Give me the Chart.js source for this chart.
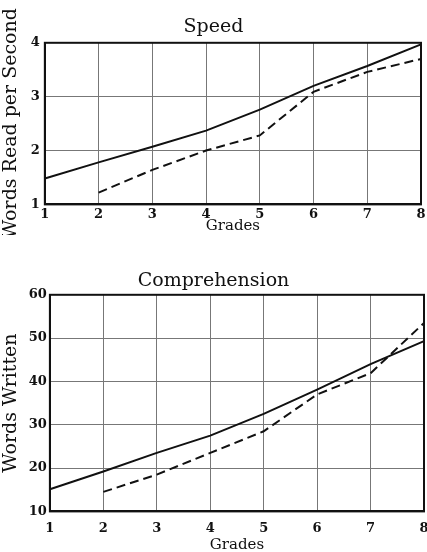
<!DOCTYPE html>
<html>
<head>
<meta charset="utf-8">
<script src="https://cdn.jsdelivr.net/npm/chart.js@4/dist/chart.umd.min.js"></script>
<style>
    html, body { margin: 0; padding: 0; background: #fff; }
    body { width: 427px; height: 552px; position: relative; overflow: hidden; }
    canvas { position: absolute; left: 0; }
    #speed { top: 0; }
    #comp { top: 250px; }
</style>
</head>
<body>
<canvas id="speed" width="427" height="235"></canvas>
<canvas id="comp" width="427" height="304"></canvas>
<script>
const grades = ["1", "2", "3", "4", "5", "6", "7", "8"];

// Speed: words read per second
const speedSolid = [1.48, 1.78, 2.07, 2.37, 2.76, 3.2, 3.57, 3.97];
const speedDashed = [null, 1.22, 1.64, 2.0, 2.28, 3.09, 3.46, 3.7];
const speedTicks = [1, 2, 3, 4];

// Comprehension: words written
const compSolid = [15.1, 19.2, 23.5, 27.5, 32.5, 38.1, 44.0, 49.3];
const compDashed = [null, 14.5, 18.5, 23.5, 28.5, 37.0, 41.9, 53.5];
const compTicks = [10, 20, 30, 40, 50, 60];

const serif = "'DejaVu Serif', 'Liberation Serif', serif";

// black frame round the plot area
const framePlugin = {
    id: "frame",
    afterDraw(chart) {
        const a = chart.chartArea;
        const ctx = chart.ctx;
        ctx.save();
        ctx.strokeStyle = "#111";
        ctx.lineWidth = 2;
        ctx.strokeRect(a.left, a.top, a.right - a.left, a.bottom - a.top);
        ctx.restore();
    }
};

function makeChart(id, title, yTitle, solid, dashed, ticks, pad) {
    const ctx = document.getElementById(id).getContext("2d");
    return new Chart(ctx, {
        type: "line",
        data: {
            labels: grades,
            datasets: [{
                data: solid,
                borderColor: "#111",
                borderWidth: 2,
                pointRadius: 0,
                tension: 0,
            }, {
                data: dashed,
                borderColor: "#111",
                borderWidth: 2,
                borderDash: [9, 5],
                pointRadius: 0,
                tension: 0,
                spanGaps: false,
            }]
        },
        options: {
            responsive: false,
            animation: false,
            layout: {
                padding: { left: 0, right: 0, top: 0, bottom: 0 }
            },
            plugins: {
                legend: { display: false },
                tooltip: { enabled: false },
                title: {
                    display: true,
                    text: title,
                    color: "#111",
                    font: { family: serif, size: 19, weight: "normal" },
                    padding: pad.title,
                }
            },
            scales: {
                x: {
                    type: "category",
                    offset: false,
                    afterFit: (axis) => {
                        // tick padding would otherwise widen the right margin too
                        axis.paddingRight = pad.xRight;
                    },
                    grid: { color: "#777", lineWidth: 1, drawTicks: false },
                    border: { color: "#111", width: 2 },
                    ticks: {
                        color: "#111",
                        padding: pad.xTick,
                        maxRotation: 0,
                        font: { family: serif, size: 13, weight: "bold" },
                    },
                    title: {
                        display: true,
                        text: "Grades",
                        color: "#111",
                        font: { family: serif, size: 15, weight: "normal" },
                        padding: pad.xTitle,
                    }
                },
                y: {
                    min: ticks[0],
                    max: ticks[ticks.length - 1],
                    afterBuildTicks: (axis) => {
                        axis.ticks = ticks.map(v => ({ value: v }));
                    },
                    grid: { color: "#777", lineWidth: 1, drawTicks: false },
                    border: { color: "#111", width: 2 },
                    ticks: {
                        color: "#111",
                        padding: pad.yTick,
                        font: { family: serif, size: 13, weight: "bold" },
                    },
                    title: {
                        display: true,
                        text: yTitle,
                        color: "#111",
                        font: { family: serif, size: 19, weight: "normal" },
                        padding: pad.yTitle,
                    }
                }
            }
        },
        plugins: [framePlugin]
    });
}

makeChart("speed", "Speed", "Words Read per Second", speedSolid, speedDashed, speedTicks, {
    title: { top: 16, bottom: 4 },
    yTitle: { top: 0, bottom: 3 },
    yTick: 5,
    xTick: 2,
    xRight: 6,
    xTitle: { top: -7, bottom: 0 },
});
makeChart("comp", "Comprehension", "Words Written", compSolid, compDashed, compTicks, {
    title: { top: 20, bottom: 2 },
    yTitle: { top: 0, bottom: 3 },
    yTick: 3,
    xTick: 9,
    xRight: 3,
    xTitle: { top: -9, bottom: 0 },
});
</script>
</body>
</html>
